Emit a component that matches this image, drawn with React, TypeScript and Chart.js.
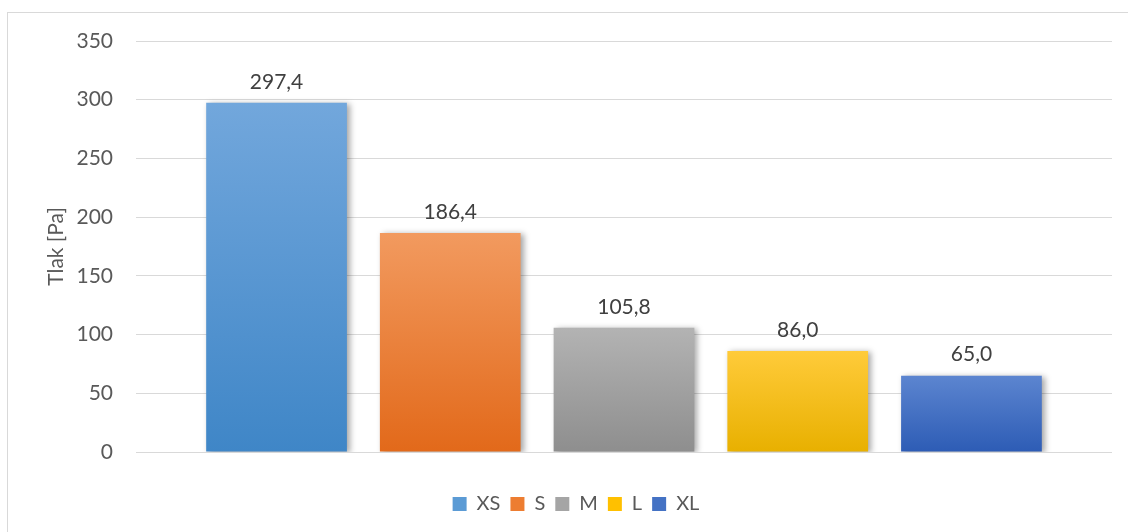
import React, { useEffect, useRef } from "react";
import { Chart, registerables } from "chart.js";

Chart.register(...registerables);

const CATEGORIES = [""];
const SERIES_NAMES = ["XS", "S", "M", "L", "XL"];
const SERIES_VALUES = [297.4, 186.4, 105.8, 86.0, 65.0];
const Y_TICKS = [0, 50, 100, 150, 200, 250, 300, 350];
const Y_TITLE = "Tlak [Pa]";

const BASE_COLORS = ["#5b9bd5", "#ed7d31", "#a5a5a5", "#ffc000", "#4472c4"];
const TOP_COLORS = ["#72a7dc", "#f29a5f", "#b3b3b3", "#ffcb3a", "#5c85d0"];
const BOTTOM_COLORS = ["#3f86c7", "#e2691a", "#8e8e8e", "#e8b000", "#2d5cb5"];

const FONT = "Lato, 'Open Sans', 'DejaVu Sans', sans-serif";

const fmt = (v: number) => v.toFixed(1).replace(".", ",");

const makeBg = (i: number) => (ctx: any) => {
  const chart = ctx.chart;
  const area = chart.chartArea;
  if (!area || ctx.type !== "data" || !chart.scales || !chart.scales.y) return BASE_COLORS[i];
  const y = chart.scales.y;
  const top = y.getPixelForValue(ctx.raw);
  const bottom = y.getPixelForValue(0);
  if (!isFinite(top) || !isFinite(bottom) || top === bottom) return BASE_COLORS[i];
  const g = chart.ctx.createLinearGradient(0, top, 0, bottom);
  g.addColorStop(0, TOP_COLORS[i]);
  g.addColorStop(1, BOTTOM_COLORS[i]);
  return g;
};

const shadowPlugin = {
  id: "barShadow",
  beforeDatasetsDraw(chart: any) {
    const ctx = chart.ctx;
    ctx.save();
    ctx.shadowColor = "rgba(0,0,0,0.35)";
    ctx.shadowBlur = 6;
    ctx.shadowOffsetX = 3;
    ctx.shadowOffsetY = 1;
  },
  afterDatasetsDraw(chart: any) {
    chart.ctx.restore();
  },
};

const labelPlugin = {
  id: "valueLabels",
  afterDatasetsDraw(chart: any) {
    const ctx = chart.ctx;
    ctx.save();
    ctx.font = `21px ${FONT}`;
    ctx.fillStyle = "#404040";
    ctx.textAlign = "center";
    ctx.textBaseline = "middle";
    chart.data.datasets.forEach((ds: any, di: number) => {
      const meta = chart.getDatasetMeta(di);
      meta.data.forEach((el: any, idx: number) => {
        const v = ds.data[idx];
        ctx.fillText(fmt(v), el.x, el.y - 21);
      });
    });
    ctx.restore();
  },
};

export default function App() {
  const ref = useRef<HTMLCanvasElement | null>(null);

  useEffect(() => {
    if (!ref.current) return;
    const chart = new Chart(ref.current, {
      type: "bar",
      data: {
        labels: CATEGORIES,
        datasets: SERIES_NAMES.map((name, i) => ({
          label: name,
          data: [SERIES_VALUES[i]],
          backgroundColor: makeBg(i),
          borderWidth: 0,
          categoryPercentage: 0.89,
          barPercentage: 0.81,
        })),
      },
      options: {
        animation: false,
        responsive: false,
        maintainAspectRatio: false,
        devicePixelRatio: 1,
        layout: { padding: { left: 40, right: 16, top: 41, bottom: 8 } },
        plugins: {
          tooltip: { enabled: false },
          legend: {
            display: true,
            position: "bottom",
            labels: {
              boxWidth: 14,
              boxHeight: 14,
              padding: 10,
              color: "#595959",
              font: { family: FONT, size: 20 },
              generateLabels: (chart: any) =>
                chart.data.datasets.map((ds: any, i: number) => ({
                  text: ds.label,
                  fillStyle: BASE_COLORS[i],
                  strokeStyle: BASE_COLORS[i],
                  lineWidth: 0,
                  hidden: false,
                  datasetIndex: i,
                  fontColor: "#595959",
                })),
            },
          },
        },
        scales: {
          x: {
            display: true,
            ticks: { display: false },
            grid: { display: false },
            border: { display: false },
            afterFit: (s: any) => {
              s.height = 32;
            },
          },
          y: {
            min: 0,
            max: 350,
            afterBuildTicks: (s: any) => {
              s.ticks = Y_TICKS.map((v) => ({ value: v }));
            },
            afterFit: (s: any) => {
              s.width = 96;
            },
            ticks: {
              color: "#595959",
              padding: 23,
              font: { family: FONT, size: 21 },
            },
            grid: { color: "#d9d9d9", lineWidth: 1, drawTicks: false },
            border: { display: false },
            title: {
              display: true,
              text: Y_TITLE,
              color: "#595959",
              font: { family: FONT, size: 21 },
              padding: { top: 4, bottom: 4 },
            },
          },
        },
      },
      plugins: [shadowPlugin, labelPlugin],
    });
    return () => chart.destroy();
  }, []);

  return (
    <div style={{ position: "fixed", left: 0, top: 0, width: 1128, height: 532, overflow: "hidden", background: "#ffffff" }}>
      <div
        style={{
          position: "absolute",
          left: 7,
          top: 12,
          width: 1200,
          height: 600,
          border: "1px solid #d9d9d9",
          boxSizing: "border-box",
        }}
      />
      <canvas ref={ref} width={1128} height={532} style={{ position: "absolute", left: 0, top: 0, width: 1128, height: 532 }} />
    </div>
  );
}
